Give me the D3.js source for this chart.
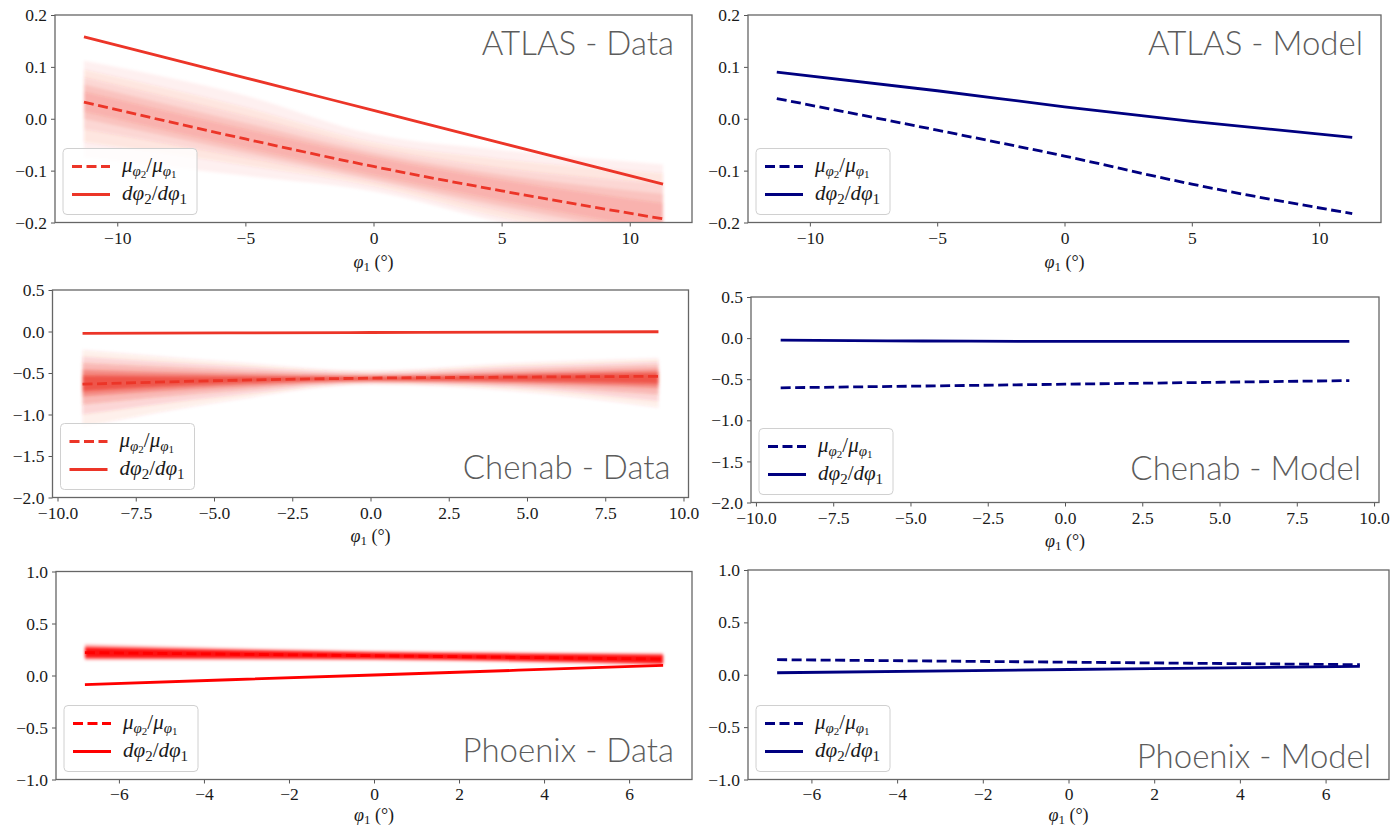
<!DOCTYPE html>
<html>
<head>
<meta charset="utf-8">
<script src="https://cdn.jsdelivr.net/npm/d3@7"></script>
<style>
  html, body { margin: 0; padding: 0; background: #fff; }
  svg { display: block; }
</style>
</head>
<body>
<svg id="fig" width="1391" height="828">
  <defs>
    <filter id="soft" x="-5%" y="-20%" width="110%" height="140%">
      <feGaussianBlur stdDeviation="1.4"/>
    </filter>
  </defs>
</svg>
<script>
// ---------------- ATLAS ----------------
const atlasX = [-11.3, -5, 0, 5, 11.3];
const atlasDataTrack = [0.158, 0.079, 0.016, -0.047, -0.126];     // dφ2/dφ1
const atlasDataPM = [0.032, -0.039, -0.092, -0.139, -0.193];      // μφ2/μφ1
// posterior fan, outermost to innermost envelope
const atlasDataFan1 = { hi: [0.112, 0.045, -0.03, -0.06, -0.088], lo: [-0.075, -0.11, -0.14, -0.2, -0.26] };
const atlasDataFan2 = { hi: [0.095, 0.022, -0.045, -0.078, -0.105], lo: [-0.045, -0.09, -0.13, -0.19, -0.25] };
const atlasDataFan3 = { hi: [0.08, 0.006, -0.056, -0.095, -0.125], lo: [-0.02, -0.075, -0.122, -0.178, -0.238] };
const atlasDataFan4 = { hi: [0.066, -0.008, -0.066, -0.108, -0.145], lo: [0.0, -0.065, -0.116, -0.168, -0.226] };
const atlasDataFan5 = { hi: [0.052, -0.02, -0.074, -0.118, -0.163], lo: [0.014, -0.056, -0.108, -0.158, -0.215] };
const atlasModelTrack = [0.09, 0.054, 0.023, -0.005, -0.036];
const atlasModelPM = [0.039, -0.022, -0.072, -0.126, -0.183];
const atlasXTicks = [-10, -5, 0, 5, 10];
const atlasYTicks = [-0.2, -0.1, 0.0, 0.1, 0.2];

// ---------------- Chenab ----------------
const chenabX = [-9.2, -4.6, 0, 4.6, 9.2];
const chenabDataTrack = [-0.022, -0.017, -0.012, -0.007, -0.003];
const chenabDataPM = [-0.635, -0.59, -0.562, -0.55, -0.54];
const chenabDataFan1 = { hi: [-0.22, -0.36, -0.47, -0.38, -0.32], lo: [-1.15, -0.84, -0.64, -0.72, -0.92] };
const chenabDataFan2 = { hi: [-0.3, -0.41, -0.49, -0.42, -0.36], lo: [-1.0, -0.78, -0.625, -0.68, -0.84] };
const chenabDataFan3 = { hi: [-0.38, -0.46, -0.515, -0.46, -0.41], lo: [-0.88, -0.72, -0.61, -0.65, -0.76] };
const chenabDataFan4 = { hi: [-0.46, -0.51, -0.535, -0.5, -0.46], lo: [-0.78, -0.67, -0.598, -0.62, -0.68] };
const chenabDataFan5 = { hi: [-0.53, -0.545, -0.548, -0.525, -0.5], lo: [-0.72, -0.63, -0.588, -0.6, -0.63] };
const chenabModelTrack = [-0.024, -0.035, -0.04, -0.04, -0.04];
const chenabModelPM = [-0.605, -0.583, -0.561, -0.539, -0.517];
const chenabXTicks = [-10, -7.5, -5, -2.5, 0, 2.5, 5, 7.5, 10];
const chenabYTicks = [-2.0, -1.5, -1.0, -0.5, 0.0, 0.5];

// ---------------- Phoenix ----------------
const phoenixX = [-6.8, 0, 6.8];
const phoenixDataTrack = [-0.087, 0.005, 0.097];
const phoenixDataPM = [0.22, 0.19, 0.158];
const phoenixDataFan1 = { hi: [0.298, 0.234, 0.214], lo: [0.15, 0.148, 0.102] };
const phoenixDataFan2 = { hi: [0.27, 0.222, 0.198], lo: [0.17, 0.158, 0.116] };
const phoenixModelTrack = [0.019, 0.05, 0.08];
const phoenixModelPM = [0.144, 0.12, 0.096];
const phoenixXTicks = [-6, -4, -2, 0, 2, 4, 6];
const phoenixYTicks = [-1.0, -0.5, 0.0, 0.5, 1.0];

const dataRed = "#ec3528";
const phoenixRed = "#ff0000";
const modelBlue = "#000080";
const serif = "'Liberation Serif', 'Times New Roman', serif";

const svg = d3.select("#fig");
let clipId = 0;

function drawPanel(p) {
  const x = d3.scaleLinear().domain(p.xDomain).range([p.left, p.right]);
  const y = d3.scaleLinear().domain(p.yDomain).range([p.bottom, p.top]);
  const g = svg.append("g");
  const cid = "clip" + (clipId++);
  svg.append("clipPath").attr("id", cid).append("rect")
    .attr("x", p.left).attr("y", p.top).attr("width", p.right - p.left).attr("height", p.bottom - p.top);
  const plot = g.append("g").attr("clip-path", `url(#${cid})`);

  // posterior sample fan, as stacked translucent envelopes
  const fanG = plot.append("g").attr("filter", p.fans ? "url(#soft)" : null);
  (p.fans || []).forEach(f => {
    const pts = p.xs.map((xv, i) => ({ x: xv, hi: f.band.hi[i], lo: f.band.lo[i] }));
    fanG.append("path")
      .attr("d", d3.area().curve(d3.curveMonotoneX).x(d => x(d.x)).y0(d => y(d.lo)).y1(d => y(d.hi))(pts))
      .attr("fill", p.color).attr("fill-opacity", f.alpha);
  });

  const line = d3.line().curve(d3.curveMonotoneX).x(d => x(d[0])).y(d => y(d[1]));
  plot.append("path").attr("d", line(p.xs.map((v, i) => [v, p.pm[i]])))
    .attr("fill", "none").attr("stroke", p.color).attr("stroke-width", 2.8).attr("stroke-dasharray", "10,4.5");
  plot.append("path").attr("d", line(p.xs.map((v, i) => [v, p.track[i]])))
    .attr("fill", "none").attr("stroke", p.color).attr("stroke-width", 2.8);

  // axes
  const ax = g.append("g").attr("transform", `translate(0,${p.bottom})`)
    .call(d3.axisBottom(x).tickValues(p.xTicks).tickFormat(d3.format(p.xFmt)).tickSize(4).tickSizeOuter(0).tickPadding(p.xPad || 5));
  const ay = g.append("g").attr("transform", `translate(${p.left},0)`)
    .call(d3.axisLeft(y).tickValues(p.yTicks).tickFormat(d3.format(".1f")).tickSize(4).tickSizeOuter(0).tickPadding(4));
  [ax, ay].forEach(a => {
    a.attr("font-family", null).attr("font-size", null);
    a.select(".domain").remove();
    a.selectAll(".tick line").attr("stroke", "#555").attr("stroke-width", 1);
    a.selectAll(".tick text").style("font-family", serif).style("font-size", "17.5px").attr("fill", "#1a1a1a");
  });
  g.append("rect").attr("x", p.left).attr("y", p.top)
    .attr("width", p.right - p.left).attr("height", p.bottom - p.top)
    .attr("fill", "none").attr("stroke", "#666").attr("stroke-width", 1.3);

  // x label  φ1 (°)
  const xl = g.append("text").attr("text-anchor", "middle")
    .attr("x", (p.left + p.right) / 2).attr("y", p.xLabelY)
    .style("font-family", serif).style("font-size", "18px").attr("fill", "#1a1a1a");
  xl.append("tspan").style("font-style", "italic").text("φ");
  xl.append("tspan").attr("dy", 3).style("font-size", "13px").text("1");
  xl.append("tspan").attr("dy", -3).text(" (°)");

  // title
  g.append("text").attr("text-anchor", "end")
    .attr("x", p.right - 18).attr("y", p.titleY)
    .style("font-family", "Lato, 'Open Sans', sans-serif").style("font-weight", 300)
    .style("font-size", "33px").attr("fill", "#5c5c5c").text(p.title);

  // legend
  const lw = 134, lh = 66;
  const lx = p.left + 8, ly = p.bottom - 8 - lh;
  const lg = g.append("g");
  lg.append("rect").attr("x", lx).attr("y", ly).attr("width", lw).attr("height", lh)
    .attr("rx", 4).attr("fill", "#fff").attr("fill-opacity", 0.8).attr("stroke", "#d0d0d0").attr("stroke-width", 1);
  const rows = [ly + 18, ly + 46];
  lg.append("line").attr("x1", lx + 9).attr("x2", lx + 47).attr("y1", rows[0]).attr("y2", rows[0])
    .attr("stroke", p.color).attr("stroke-width", 2.8).attr("stroke-dasharray", "10,4.5");
  lg.append("line").attr("x1", lx + 9).attr("x2", lx + 47).attr("y1", rows[1]).attr("y2", rows[1])
    .attr("stroke", p.color).attr("stroke-width", 2.8);
  const t1 = lg.append("text").attr("x", lx + 59).attr("y", rows[0] + 5)
    .style("font-family", serif).style("font-size", "21px").attr("fill", "#1a1a1a");
  t1.append("tspan").style("font-style", "italic").text("μ");
  t1.append("tspan").style("font-style", "italic").attr("dy", 4).style("font-size", "15px").text("φ");
  t1.append("tspan").attr("dy", 2).style("font-size", "11px").text("2");
  t1.append("tspan").attr("dy", -6).text("/");
  t1.append("tspan").style("font-style", "italic").text("μ");
  t1.append("tspan").style("font-style", "italic").attr("dy", 4).style("font-size", "15px").text("φ");
  t1.append("tspan").attr("dy", 2).style("font-size", "11px").text("1");
  const t2 = lg.append("text").attr("x", lx + 59).attr("y", rows[1] + 5)
    .style("font-family", serif).style("font-size", "21px").attr("fill", "#1a1a1a");
  t2.append("tspan").style("font-style", "italic").text("dφ");
  t2.append("tspan").attr("dy", 4).style("font-size", "15px").text("2");
  t2.append("tspan").attr("dy", -4).text("/");
  t2.append("tspan").style("font-style", "italic").text("dφ");
  t2.append("tspan").attr("dy", 4).style("font-size", "15px").text("1");
}

const atlasDom = [-12.43, 12.43];
const chenabDom = [-10.16, 10.16];
const phoenixDom = [-7.48, 7.48];
const atlasAlphas = [0.06, 0.07, 0.09, 0.11, 0.13];
const chenabAlphas = [0.08, 0.12, 0.2, 0.35, 0.6];

drawPanel({ left: 55, right: 692, top: 15, bottom: 222.5, xDomain: atlasDom, yDomain: [-0.2, 0.2],
  xs: atlasX, pm: atlasDataPM, track: atlasDataTrack, color: dataRed,
  fans: [atlasDataFan1, atlasDataFan2, atlasDataFan3, atlasDataFan4, atlasDataFan5].map((b, i) => ({ band: b, alpha: atlasAlphas[i] })),
  xTicks: atlasXTicks, yTicks: atlasYTicks, xFmt: "d", title: "ATLAS - Data", titleY: 55, xLabelY: 268 });
drawPanel({ left: 748, right: 1381, top: 15, bottom: 222.5, xDomain: atlasDom, yDomain: [-0.2, 0.2],
  xs: atlasX, pm: atlasModelPM, track: atlasModelTrack, color: modelBlue,
  xTicks: atlasXTicks, yTicks: atlasYTicks, xFmt: "d", title: "ATLAS - Model", titleY: 55, xLabelY: 268 });
drawPanel({ left: 52.5, right: 688.5, top: 290, bottom: 497.5, xDomain: chenabDom, yDomain: [-2.0, 0.5],
  xs: chenabX, pm: chenabDataPM, track: chenabDataTrack, color: dataRed,
  fans: [chenabDataFan1, chenabDataFan2, chenabDataFan3, chenabDataFan4, chenabDataFan5].map((b, i) => ({ band: b, alpha: chenabAlphas[i] })),
  xTicks: chenabXTicks, yTicks: chenabYTicks, xFmt: ".1f", title: "Chenab - Data", titleY: 479, xLabelY: 542 });
drawPanel({ left: 751, right: 1379, top: 297, bottom: 502.5, xDomain: chenabDom, yDomain: [-2.0, 0.5],
  xs: chenabX, pm: chenabModelPM, track: chenabModelTrack, color: modelBlue,
  xTicks: chenabXTicks, yTicks: chenabYTicks, xFmt: ".1f", title: "Chenab - Model", titleY: 480, xLabelY: 547 });
drawPanel({ left: 56, right: 692, top: 571.5, bottom: 779.5, xDomain: phoenixDom, yDomain: [-1.0, 1.0],
  xs: phoenixX, pm: phoenixDataPM, track: phoenixDataTrack, color: phoenixRed,
  fans: [{ band: phoenixDataFan1, alpha: 0.35 }, { band: phoenixDataFan2, alpha: 0.9 }],
  xTicks: phoenixXTicks, yTicks: phoenixYTicks, xFmt: "d", title: "Phoenix - Data", titleY: 762, xLabelY: 821, xPad: 4 });
drawPanel({ left: 748, right: 1389, top: 570, bottom: 779.5, xDomain: phoenixDom, yDomain: [-1.0, 1.0],
  xs: phoenixX, pm: phoenixModelPM, track: phoenixModelTrack, color: modelBlue,
  xTicks: phoenixXTicks, yTicks: phoenixYTicks, xFmt: "d", title: "Phoenix - Model", titleY: 768, xLabelY: 821, xPad: 4 });
</script>
</body>
</html>
